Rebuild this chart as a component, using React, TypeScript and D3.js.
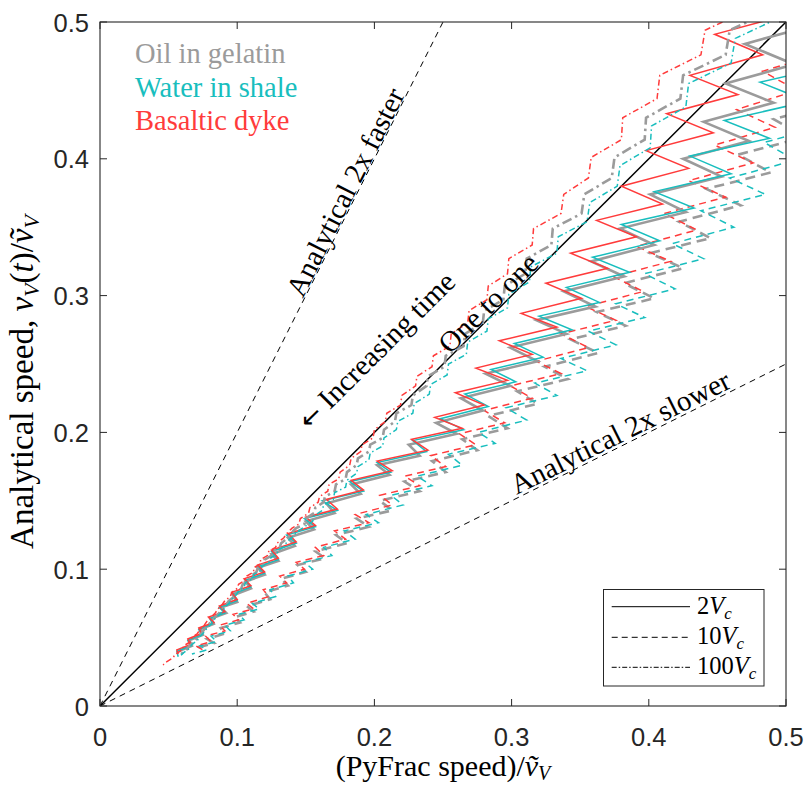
import React from "react";
import * as d3 from "d3";

type Pt = [number, number];

// ---------- axes ----------
const xTickValues = [0, 0.1, 0.2, 0.3, 0.4, 0.5];
const yTickValues = [0, 0.1, 0.2, 0.3, 0.4, 0.5];
const tickLabels = ["0", "0.1", "0.2", "0.3", "0.4", "0.5"];

// ---------- legends ----------
const fluidNames = ["Oil in gelatin", "Water in shale", "Basaltic dyke"];
const velocityMultipliers = ["2", "10", "100"];

// ---------- reference lines ----------
const oneToOne: Pt[] = [[0, 0], [0.5, 0.5]];
const twiceFaster: Pt[] = [[0, 0], [0.25, 0.5]];
const twiceSlower: Pt[] = [[0, 0], [0.5, 0.25]];

// ---------- 2 Vc (solid) ----------
const gelatin2Vc: Pt[] = [[0.521,0.498],[0.470,0.484],[0.506,0.469],[0.456,0.455],[0.491,0.441],[0.440,0.427],[0.473,0.413],[0.425,0.400],[0.453,0.387],[0.401,0.374],[0.427,0.361],[0.379,0.349],[0.404,0.337],[0.358,0.325],[0.382,0.314],[0.338,0.303],[0.361,0.292],[0.318,0.282],[0.340,0.272],[0.299,0.262],[0.319,0.252],[0.281,0.243],[0.299,0.234],[0.263,0.225],[0.279,0.216],[0.245,0.207],[0.260,0.199],[0.225,0.191],[0.233,0.183],[0.202,0.176],[0.211,0.169],[0.183,0.162],[0.190,0.155],[0.165,0.148],[0.171,0.141],[0.150,0.135],[0.156,0.129],[0.137,0.123],[0.142,0.117],[0.125,0.111],[0.130,0.106],[0.115,0.101],[0.120,0.096],[0.106,0.091],[0.110,0.086],[0.097,0.081],[0.100,0.076],[0.088,0.072],[0.092,0.068],[0.081,0.064],[0.083,0.060],[0.073,0.056],[0.075,0.052],[0.065,0.048],[0.067,0.044],[0.057,0.040]];
const shale2Vc: Pt[] = [[0.531,0.512],[0.568,0.498],[0.506,0.484],[0.543,0.470],[0.481,0.456],[0.516,0.442],[0.455,0.428],[0.488,0.415],[0.430,0.402],[0.460,0.389],[0.404,0.376],[0.433,0.364],[0.380,0.352],[0.408,0.340],[0.359,0.328],[0.386,0.317],[0.340,0.306],[0.364,0.295],[0.320,0.285],[0.344,0.275],[0.302,0.265],[0.323,0.255],[0.285,0.246],[0.303,0.237],[0.266,0.228],[0.283,0.219],[0.248,0.210],[0.265,0.202],[0.228,0.194],[0.238,0.186],[0.202,0.178],[0.212,0.171],[0.182,0.164],[0.192,0.157],[0.162,0.150],[0.173,0.143],[0.149,0.137],[0.157,0.131],[0.136,0.125],[0.143,0.119],[0.125,0.113],[0.130,0.107],[0.115,0.102],[0.120,0.097],[0.106,0.092],[0.110,0.087],[0.097,0.082],[0.100,0.077],[0.087,0.072],[0.091,0.068],[0.080,0.064],[0.082,0.060],[0.072,0.056],[0.074,0.052],[0.064,0.048],[0.066,0.044],[0.056,0.040],[0.057,0.036]];
const basalt2Vc: Pt[] = [[0.500,0.505],[0.448,0.491],[0.483,0.476],[0.430,0.461],[0.465,0.447],[0.413,0.433],[0.447,0.419],[0.398,0.406],[0.429,0.393],[0.380,0.380],[0.410,0.367],[0.362,0.355],[0.391,0.343],[0.343,0.331],[0.370,0.320],[0.325,0.309],[0.351,0.298],[0.307,0.287],[0.333,0.277],[0.291,0.267],[0.315,0.257],[0.274,0.247],[0.297,0.238],[0.259,0.229],[0.280,0.220],[0.244,0.211],[0.264,0.203],[0.227,0.195],[0.239,0.187],[0.202,0.179],[0.213,0.172],[0.183,0.165],[0.192,0.158],[0.165,0.151],[0.173,0.144],[0.150,0.138],[0.157,0.132],[0.137,0.126],[0.143,0.120],[0.125,0.114],[0.130,0.108],[0.115,0.103],[0.120,0.098],[0.105,0.093],[0.110,0.088],[0.096,0.083],[0.100,0.078],[0.087,0.073],[0.091,0.069],[0.079,0.065],[0.083,0.061],[0.072,0.057],[0.074,0.053],[0.064,0.049],[0.066,0.045],[0.056,0.041],[0.057,0.038]];

// ---------- 10 Vc (dashed) ----------
const gelatin10Vc: Pt[] = [[0.568,0.470],[0.518,0.456],[0.540,0.442],[0.491,0.429],[0.514,0.416],[0.465,0.403],[0.489,0.390],[0.442,0.378],[0.467,0.366],[0.422,0.354],[0.445,0.342],[0.401,0.331],[0.425,0.320],[0.382,0.309],[0.404,0.298],[0.362,0.288],[0.383,0.278],[0.343,0.268],[0.363,0.258],[0.324,0.248],[0.341,0.239],[0.304,0.230],[0.319,0.221],[0.283,0.212],[0.297,0.203],[0.264,0.195],[0.275,0.187],[0.242,0.179],[0.252,0.171],[0.222,0.164],[0.233,0.157],[0.204,0.150],[0.213,0.143],[0.187,0.137],[0.196,0.131],[0.172,0.125],[0.180,0.119],[0.157,0.113],[0.164,0.108],[0.144,0.103],[0.150,0.098],[0.132,0.093],[0.137,0.088],[0.120,0.083],[0.124,0.078],[0.107,0.073],[0.112,0.069],[0.098,0.065],[0.102,0.061],[0.088,0.057],[0.091,0.053],[0.078,0.049],[0.083,0.046],[0.072,0.043],[0.076,0.040]];
const shale10Vc: Pt[] = [[0.538,0.466],[0.560,0.452],[0.510,0.438],[0.533,0.425],[0.484,0.412],[0.507,0.399],[0.459,0.386],[0.485,0.374],[0.438,0.362],[0.462,0.350],[0.417,0.338],[0.440,0.327],[0.397,0.316],[0.419,0.305],[0.376,0.294],[0.397,0.284],[0.356,0.274],[0.376,0.264],[0.336,0.254],[0.355,0.245],[0.317,0.236],[0.333,0.227],[0.296,0.218],[0.311,0.209],[0.276,0.200],[0.288,0.192],[0.254,0.184],[0.264,0.176],[0.231,0.168],[0.242,0.161],[0.212,0.154],[0.221,0.147],[0.194,0.140],[0.203,0.134],[0.178,0.128],[0.186,0.122],[0.163,0.116],[0.169,0.110],[0.149,0.105],[0.155,0.100],[0.137,0.095],[0.141,0.090],[0.124,0.085],[0.128,0.080],[0.111,0.075],[0.116,0.071],[0.101,0.067],[0.105,0.063],[0.091,0.059],[0.095,0.055],[0.081,0.051],[0.085,0.047],[0.073,0.044],[0.078,0.041],[0.067,0.038]];
const basalt10Vc: Pt[] = [[0.529,0.478],[0.483,0.464],[0.508,0.450],[0.464,0.436],[0.492,0.423],[0.448,0.410],[0.476,0.397],[0.429,0.384],[0.456,0.372],[0.411,0.360],[0.435,0.348],[0.391,0.336],[0.416,0.325],[0.374,0.314],[0.396,0.303],[0.354,0.292],[0.376,0.282],[0.336,0.272],[0.356,0.262],[0.318,0.252],[0.336,0.243],[0.299,0.234],[0.315,0.225],[0.280,0.216],[0.295,0.207],[0.262,0.199],[0.274,0.191],[0.241,0.183],[0.252,0.175],[0.222,0.168],[0.233,0.161],[0.204,0.154],[0.213,0.147],[0.186,0.140],[0.196,0.134],[0.171,0.128],[0.179,0.122],[0.157,0.116],[0.163,0.110],[0.143,0.105],[0.149,0.100],[0.131,0.095],[0.136,0.090],[0.119,0.085],[0.123,0.080],[0.107,0.075],[0.112,0.071],[0.097,0.067],[0.101,0.063],[0.087,0.059],[0.091,0.055],[0.077,0.051],[0.081,0.047],[0.070,0.044],[0.075,0.041]];

// ---------- 100 Vc (dash-dot) ----------
const gelatin100Vc: Pt[] = [[0.493,0.527],[0.491,0.509],[0.459,0.494],[0.456,0.476],[0.425,0.461],[0.423,0.444],[0.398,0.430],[0.397,0.414],[0.375,0.401],[0.373,0.386],[0.353,0.374],[0.351,0.360],[0.330,0.349],[0.329,0.337],[0.311,0.327],[0.310,0.316],[0.295,0.307],[0.294,0.297],[0.280,0.289],[0.279,0.280],[0.266,0.272],[0.265,0.263],[0.252,0.256],[0.251,0.248],[0.239,0.241],[0.238,0.234],[0.228,0.227],[0.227,0.220],[0.216,0.214],[0.215,0.208],[0.207,0.202],[0.206,0.196],[0.197,0.191],[0.196,0.186],[0.188,0.181],[0.187,0.176],[0.180,0.171],[0.179,0.166],[0.172,0.162],[0.171,0.157],[0.164,0.153],[0.163,0.149],[0.157,0.145],[0.156,0.141],[0.150,0.137],[0.149,0.133],[0.143,0.130],[0.139,0.126],[0.137,0.123],[0.132,0.119],[0.131,0.116],[0.126,0.113],[0.125,0.110],[0.120,0.107],[0.120,0.104],[0.115,0.101],[0.114,0.098],[0.110,0.095],[0.109,0.092],[0.104,0.089],[0.103,0.086],[0.099,0.083],[0.098,0.080],[0.094,0.077],[0.092,0.074],[0.089,0.071],[0.087,0.068],[0.084,0.065],[0.081,0.062],[0.079,0.059],[0.076,0.056],[0.074,0.053],[0.071,0.050],[0.069,0.047],[0.065,0.044],[0.063,0.041],[0.059,0.038],[0.057,0.036]];
const shale100Vc: Pt[] = [[0.497,0.521],[0.495,0.503],[0.463,0.488],[0.460,0.470],[0.429,0.455],[0.427,0.438],[0.402,0.424],[0.401,0.408],[0.379,0.395],[0.377,0.380],[0.357,0.368],[0.355,0.354],[0.334,0.343],[0.333,0.331],[0.314,0.321],[0.313,0.310],[0.298,0.301],[0.297,0.291],[0.283,0.283],[0.282,0.274],[0.268,0.266],[0.267,0.257],[0.254,0.250],[0.253,0.242],[0.241,0.235],[0.240,0.228],[0.229,0.221],[0.228,0.214],[0.217,0.208],[0.216,0.202],[0.207,0.196],[0.206,0.190],[0.197,0.185],[0.196,0.180],[0.188,0.175],[0.187,0.170],[0.180,0.165],[0.179,0.160],[0.171,0.156],[0.170,0.151],[0.163,0.147],[0.162,0.143],[0.156,0.139],[0.155,0.135],[0.149,0.131],[0.143,0.127],[0.141,0.124],[0.136,0.120],[0.135,0.117],[0.130,0.114],[0.129,0.111],[0.124,0.108],[0.123,0.105],[0.118,0.102],[0.117,0.099],[0.112,0.096],[0.111,0.093],[0.106,0.090],[0.105,0.087],[0.101,0.084],[0.099,0.081],[0.096,0.078],[0.094,0.075],[0.091,0.072],[0.089,0.069],[0.086,0.066],[0.083,0.063],[0.081,0.060],[0.078,0.057],[0.076,0.054],[0.073,0.051],[0.071,0.048],[0.067,0.045],[0.065,0.042],[0.061,0.039],[0.059,0.037]];
const basalt100Vc: Pt[] = [[0.475,0.527],[0.473,0.509],[0.441,0.494],[0.438,0.476],[0.408,0.461],[0.406,0.444],[0.381,0.430],[0.380,0.414],[0.358,0.401],[0.356,0.386],[0.338,0.374],[0.336,0.360],[0.316,0.349],[0.315,0.337],[0.298,0.327],[0.297,0.316],[0.283,0.307],[0.282,0.297],[0.269,0.289],[0.268,0.280],[0.256,0.272],[0.255,0.263],[0.243,0.256],[0.242,0.248],[0.231,0.241],[0.230,0.234],[0.220,0.227],[0.219,0.220],[0.209,0.214],[0.208,0.208],[0.200,0.202],[0.199,0.196],[0.191,0.191],[0.190,0.186],[0.183,0.181],[0.182,0.176],[0.175,0.171],[0.174,0.166],[0.167,0.162],[0.166,0.157],[0.160,0.153],[0.159,0.149],[0.153,0.145],[0.152,0.141],[0.146,0.137],[0.145,0.133],[0.140,0.130],[0.136,0.126],[0.134,0.123],[0.129,0.119],[0.128,0.116],[0.123,0.113],[0.122,0.110],[0.117,0.107],[0.117,0.104],[0.112,0.101],[0.112,0.098],[0.107,0.095],[0.106,0.092],[0.101,0.089],[0.100,0.086],[0.096,0.083],[0.095,0.080],[0.091,0.077],[0.089,0.074],[0.086,0.071],[0.084,0.068],[0.081,0.065],[0.078,0.062],[0.076,0.059],[0.073,0.056],[0.071,0.053],[0.067,0.050],[0.066,0.047],[0.061,0.044],[0.060,0.041],[0.055,0.038],[0.053,0.035],[0.048,0.032],[0.046,0.030]];

// ---------- styling ----------
const GRAY = "#9b9b9b";
const CYAN = "#18bebe";
const RED = "#ff3b3b";
const AXIS = "#262626";
const SERIF = "Liberation Serif";
const SANS = "Liberation Sans";

const fluidColors = [GRAY, CYAN, RED];
const legendDash = ["", "6,4", "5,2,1.5,2"];

const seriesList = [
  { data: gelatin10Vc, color: GRAY, w: 2.6, dash: "10,6" },
  { data: shale10Vc, color: CYAN, w: 1.5, dash: "7,5" },
  { data: basalt10Vc, color: RED, w: 1.5, dash: "7,5" },
  { data: gelatin2Vc, color: GRAY, w: 2.6, dash: "" },
  { data: shale2Vc, color: CYAN, w: 1.5, dash: "" },
  { data: basalt2Vc, color: RED, w: 1.5, dash: "" },
  { data: gelatin100Vc, color: GRAY, w: 2.6, dash: "10,4,2.5,4" },
  { data: shale100Vc, color: CYAN, w: 1.5, dash: "6,3,1.5,3" },
  { data: basalt100Vc, color: RED, w: 1.5, dash: "6,3,1.5,3" },
];

export default function App() {
  const x = d3.scaleLinear().domain([0, 0.5]).range([100, 786]);
  const y = d3.scaleLinear().domain([0, 0.5]).range([706, 22]);
  const line = d3.line<Pt>().x((d) => x(d[0])).y((d) => y(d[1]));
  const [x0, x1] = x.range();
  const [y0, y1] = y.range();
  const tickLen = 7;

  const angle = (p: Pt[]) =>
    (Math.atan2(y(p[1][1]) - y(p[0][1]), x(p[1][0]) - x(p[0][0])) * 180) / Math.PI;

  const annotations = [
    { arrow: false, text: "Analytical 2x faster", cx: 345, cy: 192, rot: angle(twiceFaster) },
    { arrow: true, text: " Increasing time", cx: 376, cy: 350, rot: angle(oneToOne) },
    { arrow: false, text: "One to one", cx: 488, cy: 303, rot: angle(oneToOne) },
    { arrow: false, text: "Analytical 2x slower", cx: 620, cy: 432, rot: angle(twiceSlower) },
  ];

  const legendX = 603.5, legendY = 589.5, legendW = 160.5, legendH = 96.5;
  const legendRows = [606.7, 637.3, 667.3];

  return (
    <svg
      width={808}
      height={785}
      style={{ position: "absolute", left: 0, top: 0, display: "block", background: "#fff" }}
    >
      <defs>
        <clipPath id="plotClip">
          <rect x={x0} y={y1} width={x1 - x0} height={y0 - y1} />
        </clipPath>
      </defs>
      <rect x={0} y={0} width={808} height={785} fill="#fff" />

      <g clipPath="url(#plotClip)">
        <path d={line(twiceFaster) || ""} stroke="#000" strokeWidth={1} strokeDasharray="6,5" fill="none" />
        <path d={line(twiceSlower) || ""} stroke="#000" strokeWidth={1} strokeDasharray="6,5" fill="none" />
        <path d={line(oneToOne) || ""} stroke="#000" strokeWidth={1.5} fill="none" />
        {seriesList.map((s, i) => (
          <path
            key={i}
            d={line(s.data) || ""}
            stroke={s.color}
            strokeWidth={s.w}
            strokeDasharray={s.dash || undefined}
            strokeLinejoin="miter"
            strokeMiterlimit={4}
            fill="none"
          />
        ))}
      </g>

      {annotations.map((a, i) => (
        <text
          key={i}
          transform={`translate(${a.cx},${a.cy}) rotate(${a.rot})`}
          textAnchor="middle"
          dy="0.35em"
          fontFamily={SERIF}
          fontSize={29}
          fill="#000"
        >
          {a.arrow ? (
            <tspan fontFamily="DejaVu Sans" fontSize={26}>
              {"\u2190"}
            </tspan>
          ) : null}
          {a.text}
        </text>
      ))}

      {fluidNames.map((n, i) => (
        <text key={n} x={135} y={63 + i * 33.5} fontFamily={SERIF} fontSize={28.5} fill={fluidColors[i]}>
          {n}
        </text>
      ))}

      <rect x={legendX} y={legendY} width={legendW} height={legendH} fill="#fff" stroke={AXIS} strokeWidth={1} />
      {velocityMultipliers.map((m, i) => (
        <g key={m}>
          <line
            x1={611.7}
            x2={690}
            y1={legendRows[i]}
            y2={legendRows[i]}
            stroke="#000"
            strokeWidth={1}
            strokeDasharray={legendDash[i] || undefined}
          />
          <text x={697} y={legendRows[i] + 7} fontFamily={SERIF} fontSize={24.5} fill="#000">
            {m}
            <tspan fontStyle="italic">V</tspan>
            <tspan fontStyle="italic" fontSize={17} dy={5}>c</tspan>
          </text>
        </g>
      ))}

      <rect x={x0} y={y1} width={x1 - x0} height={y0 - y1} fill="none" stroke={AXIS} strokeWidth={1.1} />
      {xTickValues.map((v) => (
        <g key={"xt" + v}>
          <line x1={x(v)} x2={x(v)} y1={y0} y2={y0 - tickLen} stroke={AXIS} strokeWidth={1} />
          <line x1={x(v)} x2={x(v)} y1={y1} y2={y1 + tickLen} stroke={AXIS} strokeWidth={1} />
        </g>
      ))}
      {yTickValues.map((v) => (
        <g key={"yt" + v}>
          <line x1={x0} x2={x0 + tickLen} y1={y(v)} y2={y(v)} stroke={AXIS} strokeWidth={1} />
          <line x1={x1} x2={x1 - tickLen} y1={y(v)} y2={y(v)} stroke={AXIS} strokeWidth={1} />
        </g>
      ))}
      {xTickValues.map((v, i) => (
        <text key={"xl" + v} x={x(v)} y={746} textAnchor="middle" fontFamily={SANS} fontSize={25.5} fill={AXIS}>
          {tickLabels[i]}
        </text>
      ))}
      {yTickValues.map((v, i) => (
        <text key={"yl" + v} x={89} y={y(v) + 9.5} textAnchor="end" fontFamily={SANS} fontSize={25.5} fill={AXIS}>
          {tickLabels[i]}
        </text>
      ))}

      <text x={443} y={776} textAnchor="middle" fontFamily={SERIF} fontSize={30} fill="#000">
        (PyFrac speed)/
        <tspan fontStyle="italic">{"\u1E7D"}</tspan>
        <tspan fontStyle="italic" fontSize={20} dy={4}>V</tspan>
      </text>
      <text
        transform="translate(33,382) rotate(-90)"
        textAnchor="middle"
        fontFamily={SERIF}
        fontSize={33}
        fill="#000"
      >
        Analytical speed,{" "}
        <tspan fontStyle="italic">v</tspan>
        <tspan fontStyle="italic" fontSize={22} dy={6}>V</tspan>
        <tspan dy={-6}>(</tspan>
        <tspan fontStyle="italic">t</tspan>
        <tspan>)/</tspan>
        <tspan fontStyle="italic">{"\u1E7D"}</tspan>
        <tspan fontStyle="italic" fontSize={22} dy={6}>V</tspan>
      </text>
    </svg>
  );
}
